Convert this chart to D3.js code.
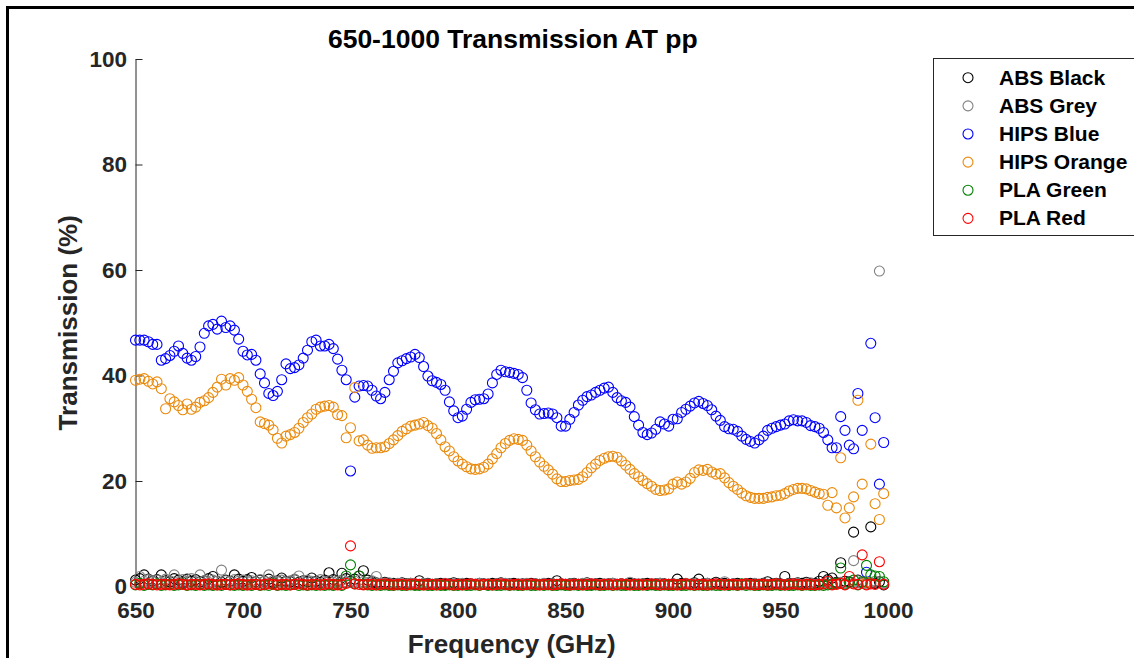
<!DOCTYPE html>
<html>
<head>
<meta charset="utf-8">
<script src="https://cdn.jsdelivr.net/npm/d3@7"></script>
<style>
    body { margin: 0; background: #fff; }
    svg text { font-family: "Liberation Sans", Arial, sans-serif; font-weight: bold; }
</style>
</head>
<body>
<div id="chart"></div>
<script>
// Frequency grid (GHz)
const freq = [
    650, 652, 654, 656, 658, 660, 662, 664, 666, 668, 670, 672, 674, 676, 678, 680, 682, 684, 686, 688, 690, 692, 694, 696, 698,
    700, 702, 704, 706, 708, 710, 712, 714, 716, 718, 720, 722, 724, 726, 728, 730, 732, 734, 736, 738, 740, 742, 744, 746, 748,
    750, 752, 754, 756, 758, 760, 762, 764, 766, 768, 770, 772, 774, 776, 778, 780, 782, 784, 786, 788, 790, 792, 794, 796, 798,
    800, 802, 804, 806, 808, 810, 812, 814, 816, 818, 820, 822, 824, 826, 828, 830, 832, 834, 836, 838, 840, 842, 844, 846, 848,
    850, 852, 854, 856, 858, 860, 862, 864, 866, 868, 870, 872, 874, 876, 878, 880, 882, 884, 886, 888, 890, 892, 894, 896, 898,
    900, 902, 904, 906, 908, 910, 912, 914, 916, 918, 920, 922, 924, 926, 928, 930, 932, 934, 936, 938, 940, 942, 944, 946, 948,
    950, 952, 954, 956, 958, 960, 962, 964, 966, 968, 970, 972, 974, 976, 978, 980, 982, 984, 986, 988, 990, 992, 994, 996, 998
];

// Transmission (%) per sample
const absBlack = [
    1.2, 1.5, 2.2, 1.4, 1.0, 1.3, 2.2, 1.1, 0.9, 1.5, 1.2, 0.8, 1.4, 1.0, 1.3, 0.9, 1.1, 1.5, 1.9, 1.0, 0.8, 1.2, 1.0, 2.2, 1.4,
    1.0, 1.3, 1.7, 0.9, 1.2, 1.0, 1.4, 0.8, 1.1, 1.6, 1.0, 0.9, 1.3, 0.8, 1.1, 0.9, 1.6, 1.0, 0.8, 1.2, 2.6, 1.3, 1.0, 2.5, 1.5,
    1.0, 1.4, 2.0, 3.0, 1.2, 0.9, 0.7, 0.6, 0.8, 0.5, 0.6, 0.4, 0.7, 0.5, 0.6, 0.4, 1.1, 0.5, 0.6, 0.4, 0.5, 0.6, 0.4, 0.5, 0.7,
    0.5, 0.4, 0.6, 0.5, 0.4, 0.6, 0.5, 0.4, 0.6, 0.5, 0.7, 0.4, 0.5, 0.6, 0.4, 0.5, 0.4, 0.6, 0.5, 0.4, 0.5, 0.6, 0.5, 1.1, 0.5,
    0.4, 0.5, 0.6, 0.4, 0.5, 0.7, 0.4, 0.5, 0.6, 0.4, 0.5, 0.6, 0.4, 0.5, 0.4, 0.6, 0.5, 0.4, 0.5, 0.6, 0.4, 0.5, 0.6, 0.5, 0.4,
    0.5, 1.4, 0.6, 0.5, 0.4, 0.7, 1.4, 0.5, 0.6, 0.4, 0.8, 0.5, 0.6, 0.4, 0.5, 0.6, 0.4, 0.5, 0.6, 0.5, 0.4, 0.6, 0.9, 0.5, 0.6,
    0.5, 1.9, 0.6, 0.5, 0.7, 0.6, 0.8, 0.5, 0.6, 1.0, 1.9, 1.3, 1.6, 0.8, 4.5, 1.0, 0.9, 10.3, 1.2, 0.7, 0.8, 11.3, 0.6, 0.9, 0.3
];
const absGrey = [
    0.8, 1.9, 1.0, 1.3, 0.9, 1.2, 0.8, 1.4, 1.1, 2.2, 0.9, 1.3, 1.0, 1.5, 0.9, 2.2, 1.1, 0.8, 1.2, 1.0, 3.1, 1.1, 0.9, 1.3, 1.0,
    1.2, 0.9, 1.1, 0.8, 1.3, 1.0, 2.2, 1.1, 0.9, 1.2, 0.8, 1.1, 1.4, 2.0, 0.9, 1.2, 1.0, 0.8, 1.3, 0.9, 1.1, 0.8, 1.0, 1.2, 0.9,
    0.8, 1.0, 1.2, 0.9, 0.7, 1.1, 1.9, 0.6, 0.5, 0.7, 0.4, 0.6, 0.5, 0.4, 0.6, 0.5, 0.4, 0.6, 0.5, 0.3, 0.5, 0.4, 0.6, 0.4, 0.5,
    0.4, 0.6, 0.3, 0.5, 0.4, 0.6, 0.4, 0.5, 0.3, 0.5, 0.4, 0.6, 0.4, 0.3, 0.5, 0.4, 0.6, 0.3, 0.5, 0.4, 0.6, 0.4, 0.5, 0.3, 0.5,
    0.4, 0.3, 0.5, 0.4, 0.6, 0.3, 0.5, 0.4, 0.3, 0.5, 0.4, 0.6, 0.3, 0.5, 0.4, 0.8, 0.3, 0.5, 0.4, 0.3, 0.5, 0.4, 0.6, 0.3, 0.4,
    0.5, 0.4, 0.3, 0.6, 0.4, 0.5, 0.3, 0.4, 0.6, 0.3, 0.5, 0.4, 0.9, 0.3, 0.5, 0.4, 0.3, 0.5, 0.4, 0.6, 0.3, 0.5, 0.4, 0.3, 0.5,
    0.4, 0.3, 0.5, 0.4, 0.6, 0.3, 0.5, 0.7, 0.4, 0.3, 0.5, 0.9, 0.4, 0.6, 0.8, 0.5, 0.7, 4.9, 1.1, 0.6, 0.5, 0.8, 1.0, 59.8, 0.5
];
const hipsBlue = [
    46.7, 46.7, 46.7, 46.4, 45.9, 45.9, 42.9, 43.2, 43.8, 44.6, 45.6, 44.2, 43.3, 42.9, 43.6, 45.4, 48.0, 49.4, 49.7, 48.8, 50.3, 49.1, 49.4, 48.6, 46.9,
    44.6, 43.9, 44.0, 42.9, 40.3, 38.6, 36.6, 36.2, 37.0, 39.2, 42.2, 41.3, 41.5, 42.0, 43.3, 44.8, 46.4, 46.7, 45.6, 45.6, 45.9, 45.1, 43.1, 41.0, 39.2,
    21.9, 35.9, 38.0, 38.1, 38.0, 37.2, 36.1, 35.6, 36.8, 39.2, 40.8, 42.4, 42.8, 43.2, 43.5, 44.0, 43.4, 41.7, 39.9, 39.0, 38.7, 38.3, 37.2, 35.0, 33.3,
    32.0, 32.3, 33.6, 34.9, 35.4, 35.5, 35.6, 36.5, 38.6, 40.2, 41.0, 40.7, 40.6, 40.4, 40.2, 39.6, 37.2, 34.8, 33.5, 32.7, 32.8, 32.9, 32.7, 32.0, 30.4,
    30.4, 31.7, 33.0, 34.4, 35.3, 36.0, 36.3, 36.8, 37.2, 37.6, 37.8, 36.8, 35.8, 35.2, 34.9, 34.0, 32.2, 30.6, 29.2, 28.8, 29.1, 29.8, 31.2, 30.8, 30.4,
    31.7, 31.8, 33.0, 33.6, 34.2, 34.8, 35.1, 34.7, 34.3, 33.5, 32.3, 31.5, 30.3, 29.9, 29.8, 29.4, 28.5, 27.9, 27.5, 27.2, 27.8, 28.5, 29.6, 30.0, 30.3,
    30.6, 30.8, 31.4, 31.6, 31.4, 31.4, 31.1, 30.5, 30.3, 30.0, 29.2, 27.8, 26.3, 26.3, 32.2, 29.6, 26.8, 26.1, 36.6, 29.6, 2.7, 46.1, 32.0, 19.4, 27.3
];
const hipsOrange = [
    39.1, 39.3, 39.4, 38.9, 38.4, 38.8, 37.5, 33.7, 35.6, 35.0, 34.3, 33.5, 34.6, 33.6, 34.0, 34.9, 35.2, 35.8, 36.8, 37.8, 39.3, 38.2, 39.4, 39.1, 39.6,
    38.2, 37.0, 35.5, 33.9, 31.2, 30.9, 30.6, 29.7, 28.1, 27.2, 28.5, 28.8, 29.2, 30.0, 31.1, 32.0, 32.7, 33.6, 34.0, 34.2, 34.3, 34.0, 32.6, 32.4, 28.2,
    30.1, 37.7, 27.6, 27.8, 26.8, 26.2, 26.3, 26.3, 26.5, 27.1, 27.8, 28.6, 29.4, 29.9, 30.4, 30.6, 30.8, 31.1, 30.5, 30.0, 29.0, 27.8, 26.5, 25.7, 24.6,
    23.8, 23.2, 22.7, 22.3, 22.2, 22.3, 22.6, 23.2, 24.2, 25.2, 26.3, 27.1, 27.7, 28.0, 27.9, 27.7, 26.8, 25.7, 24.6, 23.6, 22.8, 22.1, 21.3, 20.4, 19.9,
    19.9, 20.1, 20.2, 20.3, 20.8, 21.6, 22.5, 23.2, 23.9, 24.3, 24.6, 24.7, 24.5, 23.8, 23.0, 22.2, 21.4, 20.8, 20.1, 19.5, 19.0, 18.4, 18.2, 18.3, 18.5,
    19.4, 19.8, 19.4, 19.8, 20.5, 21.6, 22.1, 22.0, 22.2, 21.7, 21.3, 21.4, 20.6, 19.7, 19.0, 18.4, 17.7, 17.2, 16.9, 16.7, 16.7, 16.7, 16.9, 17.0, 17.2,
    17.3, 17.6, 18.1, 18.4, 18.6, 18.6, 18.5, 18.2, 17.9, 17.6, 17.5, 15.4, 17.8, 14.9, 24.4, 13.0, 14.9, 17.0, 35.3, 19.4, 0.8, 27.0, 15.7, 12.7, 17.6
];
const plaGreen = [
    0.3, 0.6, 0.2, 0.4, 0.3, 0.5, 0.2, 0.3, 0.4, 0.2, 0.3, 0.5, 0.2, 0.3, 0.2, 0.4, 0.2, 0.3, 0.2, 0.3, 0.2, 0.4, 0.3, 0.2, 0.3,
    0.2, 0.3, 0.2, 0.4, 0.2, 0.3, 0.2, 0.5, 0.2, 0.3, 0.2, 0.3, 0.4, 0.2, 0.3, 0.2, 0.3, 0.2, 0.3, 0.2, 0.3, 0.2, 0.4, 0.2, 2.0,
    4.1, 0.5, 2.0, 0.4, 0.3, 0.2, 0.3, 0.2, 0.3, 0.2, 0.2, 0.3, 0.2, 0.2, 0.3, 0.2, 0.2, 0.3, 0.2, 0.2, 0.3, 0.2, 0.2, 0.3, 0.2,
    0.2, 0.3, 0.2, 0.2, 0.3, 0.2, 0.4, 0.2, 0.3, 0.2, 0.2, 0.3, 0.2, 0.3, 0.2, 0.2, 0.3, 0.2, 0.2, 0.3, 0.2, 0.3, 0.2, 0.2, 0.3,
    0.2, 0.2, 0.3, 0.2, 0.3, 0.2, 0.2, 0.3, 0.2, 0.2, 0.3, 0.2, 0.3, 0.2, 0.2, 0.3, 0.2, 0.2, 0.3, 0.2, 0.3, 0.2, 0.2, 0.3, 0.2,
    0.2, 0.3, 0.2, 0.2, 0.3, 0.2, 0.3, 0.2, 0.2, 0.3, 0.2, 0.2, 0.3, 0.2, 0.3, 0.2, 0.5, 0.2, 0.3, 0.2, 0.2, 0.3, 0.2, 0.2, 0.3,
    0.2, 0.3, 0.2, 0.2, 0.3, 0.2, 0.3, 0.2, 0.2, 0.3, 0.2, 0.3, 0.5, 0.6, 3.5, 0.4, 0.8, 1.2, 0.3, 0.9, 4.0, 2.2, 2.0, 1.9, 0.9
];
const plaRed = [
    0.4, 0.3, 0.4, 0.5, 0.4, 0.3, 0.4, 0.4, 0.3, 0.4, 0.5, 0.4, 0.3, 0.4, 0.4, 0.3, 0.4, 0.5, 0.4, 0.3, 0.4, 0.4, 0.3, 0.4, 0.5,
    0.4, 0.3, 0.4, 0.4, 0.3, 0.4, 0.5, 0.4, 0.3, 0.4, 0.4, 0.3, 0.4, 0.5, 0.4, 0.3, 0.4, 0.4, 0.3, 0.4, 0.5, 0.4, 0.3, 0.4, 0.6,
    7.7, 0.5, 0.4, 0.3, 0.4, 0.4, 0.3, 0.4, 0.5, 0.4, 0.3, 0.4, 0.4, 0.3, 0.4, 0.5, 0.4, 0.3, 0.4, 0.4, 0.3, 0.4, 0.5, 0.4, 0.3,
    0.4, 0.3, 0.4, 0.5, 0.4, 0.3, 0.4, 0.4, 0.3, 0.4, 0.5, 0.4, 0.3, 0.4, 0.4, 0.3, 0.4, 0.5, 0.4, 0.3, 0.4, 0.4, 0.3, 0.4, 0.5,
    0.4, 0.3, 0.4, 0.4, 0.3, 0.4, 0.5, 0.4, 0.3, 0.4, 0.4, 0.3, 0.4, 0.5, 0.4, 0.3, 0.4, 0.4, 0.3, 0.4, 0.5, 0.4, 0.3, 0.4, 0.4,
    0.4, 0.3, 0.4, 0.5, 0.4, 0.3, 0.4, 0.4, 0.3, 0.4, 0.5, 0.4, 0.3, 0.4, 0.4, 0.3, 0.4, 0.5, 0.4, 0.3, 0.4, 0.4, 0.3, 0.4, 0.5,
    0.4, 0.3, 0.4, 0.5, 0.4, 0.3, 0.4, 0.4, 0.3, 0.4, 0.5, 1.0, 0.3, 0.4, 0.6, 0.3, 1.9, 0.5, 0.4, 6.0, 0.3, 0.5, 0.4, 4.7, 0.4
];

const seriesNames = ['ABS Black', 'ABS Grey', 'HIPS Blue', 'HIPS Orange', 'PLA Green', 'PLA Red'];
const xTicks = [650, 700, 750, 800, 850, 900, 950, 1000];
const yTicks = [0, 20, 40, 60, 80, 100];

class ScatterChart {

    constructor(_config, _data) {
        this.config = {
            parentElement: _config.parentElement,
            containerWidth: _config.containerWidth || 1134,
            containerHeight: _config.containerHeight || 658,
            margin: _config.margin || { top: 59, right: 246, bottom: 71.5, left: 135.5 },
            colors: _config.colors,
            radius: 5
        }
        this.data = _data;
        this.initVis();
    }

    initVis() {
        let vis = this;

        vis.width = vis.config.containerWidth - vis.config.margin.left - vis.config.margin.right;
        vis.height = vis.config.containerHeight - vis.config.margin.top - vis.config.margin.bottom;

        vis.xScale = d3.scaleLinear().domain([650, 1000]).range([0, vis.width]);
        vis.yScale = d3.scaleLinear().domain([0, 100]).range([vis.height, 0]);

        // MATLAB style: ticks point inward
        vis.xAxis = d3.axisBottom(vis.xScale)
            .tickValues(xTicks)
            .tickFormat(d3.format('d'))
            .tickSizeInner(-7)
            .tickSizeOuter(0)
            .tickPadding(16);

        vis.yAxis = d3.axisLeft(vis.yScale)
            .tickValues(yTicks)
            .tickFormat(d3.format('d'))
            .tickSizeInner(-7)
            .tickSizeOuter(0)
            .tickPadding(8.5);

        vis.svg = d3.select(vis.config.parentElement).append('svg')
            .attr('width', vis.config.containerWidth)
            .attr('height', vis.config.containerHeight);

        // figure frame, cut off on the right and bottom
        vis.svg.append('path')
            .attr('d', 'M7.5,670V7.5H1150')
            .attr('fill', 'none')
            .attr('stroke', '#000')
            .attr('stroke-width', 3);

        vis.chart = vis.svg.append('g')
            .attr('transform', `translate(${vis.config.margin.left},${vis.config.margin.top})`);

        vis.xAxisG = vis.chart.append('g')
            .attr('transform', `translate(0,${vis.height})`);
        vis.yAxisG = vis.chart.append('g');

        vis.chartArea = vis.chart.append('g');

        vis.svg.append('text')
            .attr('x', vis.config.margin.left + vis.width / 2 + 1)
            .attr('y', 48)
            .attr('text-anchor', 'middle')
            .style('font-size', '26.5px')
            .attr('fill', '#000')
            .text('650-1000 Transmission AT pp');

        vis.svg.append('text')
            .attr('x', vis.config.margin.left + vis.width / 2)
            .attr('y', 652.5)
            .attr('text-anchor', 'middle')
            .style('font-size', '26px')
            .attr('fill', '#262626')
            .text('Frequency (GHz)');

        vis.svg.append('text')
            .attr('transform', `translate(77,${vis.config.margin.top + vis.height / 2}) rotate(-90)`)
            .attr('text-anchor', 'middle')
            .style('font-size', '26px')
            .attr('fill', '#262626')
            .text('Transmission (%)');
    }

    renderVis() {
        let vis = this;

        vis.xAxisG.call(vis.xAxis);
        vis.yAxisG.call(vis.yAxis);
        [vis.xAxisG, vis.yAxisG].forEach(g => {
            g.selectAll('path, line').attr('stroke', '#262626');
            g.selectAll('text').attr('fill', '#262626').style('font-size', '22.5px');
        });

        vis.chartArea.selectAll('g.series')
            .data(vis.data)
            .join('g')
            .attr('class', 'series')
            .attr('fill', 'none')
            .attr('stroke', (d, i) => vis.config.colors[i])
            .selectAll('circle')
            .data(d => d.values.map((v, i) => [freq[i], v]))
            .join('circle')
            .attr('cx', d => vis.xScale(d[0]))
            .attr('cy', d => vis.yScale(d[1]))
            .attr('r', vis.config.radius)
            .attr('stroke-width', 1.1);

        // Legend
        const legend = vis.svg.append('g').attr('transform', 'translate(933.5,58.5)');
        legend.append('rect')
            .attr('width', 230)
            .attr('height', 177)
            .attr('fill', '#fff')
            .attr('stroke', '#262626')
            .attr('stroke-width', 1);

        const rows = legend.selectAll('g.row')
            .data(vis.data)
            .join('g')
            .attr('class', 'row')
            .attr('transform', (d, i) => `translate(0,${19.2 + i * 28.13})`);

        rows.append('circle')
            .attr('cx', 34.5)
            .attr('r', vis.config.radius)
            .attr('fill', 'none')
            .attr('stroke', (d, i) => vis.config.colors[i])
            .attr('stroke-width', 1.1);

        rows.append('text')
            .attr('x', 65.5)
            .attr('y', 7)
            .style('font-size', '21px')
            .attr('fill', '#000')
            .text(d => d.name);
    }
}

const data = [absBlack, absGrey, hipsBlue, hipsOrange, plaGreen, plaRed]
    .map((values, i) => ({ name: seriesNames[i], values }));

const chart = new ScatterChart({
    parentElement: '#chart',
    colors: ['#000000', '#808080', '#0000ff', '#ea8a0c', '#008000', '#ff0000']
}, data);
chart.renderVis();
</script>
</body>
</html>
